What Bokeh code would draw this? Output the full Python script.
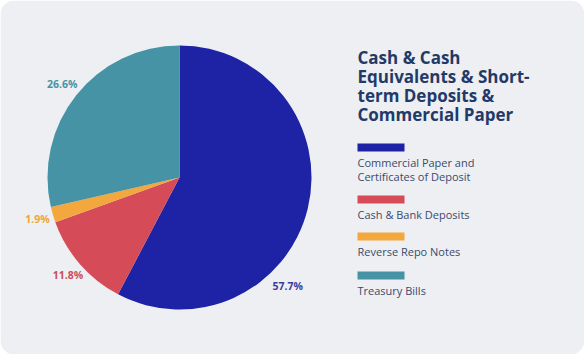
import math
from bokeh.plotting import figure
from bokeh.models import Range1d
from bokeh.core.properties import value
from bokeh.embed import file_html
from bokeh.resources import INLINE

# ---- data ----
categories = ["Commercial Paper and\nCertificates of Deposit", "Cash & Bank Deposits",
              "Reverse Repo Notes", "Treasury Bills"]
slice_share = [57.7, 11.8, 1.9, 28.6]          # angular share of the circle
label_text = ["57.7%", "11.8%", "1.9%", "26.6%"]  # printed labels
title_lines = ["Cash & Cash", "Equivalents & Short-", "term Deposits &", "Commercial Paper"]

# ---- style ----
colors = ["#1e22a4", "#d54b58", "#f2a83c", "#4593a4"]
label_colors = ["#3a3e9c", "#c94d5a", "#eea53a", "#4593a4"]
W, H = 584, 354
BG = "#eeeff2"
FONT = "Open Sans"


def Y(py):
    """convert a top-down pixel offset into the upward data axis"""
    return H - py


p = figure(width=W, height=H, output_backend="svg", toolbar_location=None,
           x_range=Range1d(0, W), y_range=Range1d(0, H), min_border=0)
p.axis.visible = False
p.grid.visible = False
p.outline_line_color = None
p.background_fill_color = "white"
p.border_fill_color = "white"

# rounded card background
p.quad(left=[0], right=[W], top=[H], bottom=[0], fill_color=BG, line_color=None,
       border_radius=14)

# pie: starts at 12 o'clock, runs clockwise
cx, cy, R = 179, Y(177), 132
total = 100.0
starts, ends, mids = [], [], []
acc = 0.0
for s in slice_share:
    a0 = math.pi / 2 - acc / total * 2 * math.pi
    acc += s
    a1 = math.pi / 2 - acc / total * 2 * math.pi
    starts.append(a0); ends.append(a1); mids.append((a0 + a1) / 2)

p.wedge(x=[cx] * 4, y=[cy] * 4, radius=R, start_angle=starts, end_angle=ends,
        direction="clock", fill_color=colors, line_color=None)

# labels
lab_ang = list(mids)
lab_r = [153, 148, 148, 150]
lab_ang[0] = math.radians(-45)  # the large slice's label sits at lower-right
lx = [cx + r * math.cos(a) for r, a in zip(lab_r, lab_ang)]
ly = [cy + r * math.sin(a) for r, a in zip(lab_r, lab_ang)]
p.text(x=lx, y=ly, text=label_text, text_color=label_colors, text_align="center",
       text_baseline="middle", text_font=value(FONT), text_font_size="10.5px",
       text_font_style="bold")

# title
TX = 357
p.text(x=[TX] * len(title_lines), y=[Y(57 + 19 * i) for i in range(len(title_lines))],
       text=title_lines, text_color="#233a68", text_font=value(FONT),
       text_font_size="17px", text_font_style="bold", text_baseline="middle")

# legend
bar_tops = [143, 195, 232, 271]
for i, (cat, col) in enumerate(zip(categories, colors)):
    y0 = bar_tops[i]
    p.quad(left=[TX], right=[TX + 47], top=[Y(y0)], bottom=[Y(y0 + 8)], fill_color=col,
           line_color=None)
    lines = cat.split("\n")
    p.text(x=[TX] * len(lines), y=[Y(y0 + 19 + 13.5 * k) for k in range(len(lines))],
           text=lines, text_color="#3b4a6e", text_font=value(FONT), text_font_size="11px",
           text_baseline="middle")

open("out.html", "w").write(file_html(p, INLINE))
